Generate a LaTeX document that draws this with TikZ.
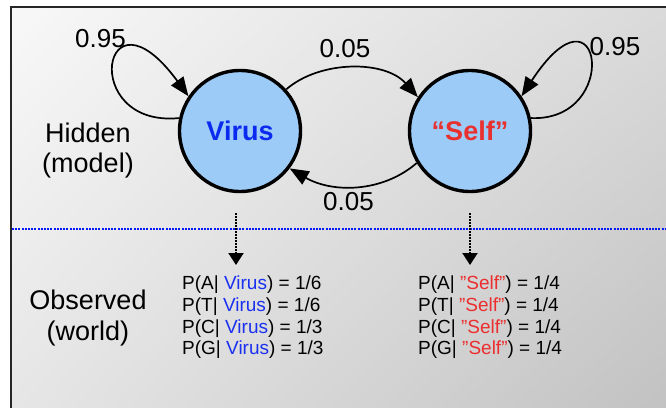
\documentclass[tikz,border=0pt]{standalone}
\usepackage{fontspec}
\setmainfont{Liberation Sans}
\usetikzlibrary{arrows.meta,shadings}

\definecolor{statefill}{HTML}{9DCBF8}
\definecolor{virusblue}{HTML}{0A2AF0}
\definecolor{selfred}{HTML}{E8302E}
\definecolor{textblue}{HTML}{1A30F0}
\definecolor{textred}{HTML}{EC2E2E}
\definecolor{splitblue}{HTML}{0018FF}
\definecolor{bgul}{HTML}{F8F8F8}
\definecolor{bgur}{HTML}{DADADA}
\definecolor{bgll}{HTML}{E6E6E6}
\definecolor{bglr}{HTML}{C2C2C2}

\tikzset{
  state/.style={circle, draw=black, line width=3.4pt, fill=statefill,
    minimum size=121pt, inner sep=0pt,
    font=\fontsize{27}{30}\selectfont\bfseries},
  trans/.style={line width=1.7pt,
    -{Triangle[length=19pt,width=15pt]}},
  emit/.style={line width=2pt, dash pattern=on 1.6pt off 1.4pt,
    -{Triangle[length=12pt,width=15pt]}},
  prob/.style={anchor=base, font=\fontsize{26}{30}\selectfont},
  side/.style={anchor=base, font=\fontsize{27}{31}\selectfont},
  emline/.style={anchor=base west, inner sep=0pt, font=\fontsize{19}{21}\selectfont},
}

\begin{document}
\begin{tikzpicture}[x=1pt, y=-1pt]
  \useasboundingbox (0,0) rectangle (666,407);

  % panel background and its frame
  \shade[upper left=bgul, upper right=bgur, lower left=bgll, lower right=bglr]
    (11,7) rectangle (666,407);
  \draw[line width=2.2pt, black!85] (11,408) -- (11,7) -- (667,7);

  % split between hidden and observed layers
  \coordinate (splitL) at (12,229);
  \coordinate (splitR) at (666,229);
  \draw[splitblue, line width=1.1pt, dash pattern=on 2pt off 1.2pt] (splitL) -- (splitR);

  % hidden states
  \node[state, text=virusblue] (virus) at (240,131) {Virus};
  \node[state, text=selfred]   (self)  at (470,131) {“Self”};

  % transitions
  \draw[trans] (virus.42) .. controls (320,60) and (385,60) .. (self.147);
  \draw[trans] (self.211) .. controls (382,193) and (332,193) .. (virus.323);
  \draw[trans] (virus.168) .. controls (78,128) and (102,-22) .. (virus.146);
  \draw[trans] (self.12) .. controls (622,122) and (602,-27) .. (self.34);

  % transition probabilities
  \node[prob] (p11) at (100.5,47) {0.95};
  \node[prob] (p12) at (345,57) {0.05};
  \node[prob] (p21) at (348.5,210) {0.05};
  \node[prob] (p22) at (615,55) {0.95};

  % layer captions
  \node[side] (hid1) at (88,142) {Hidden};
  \node[side] (hid2) at (88,172) {(model)};
  \node[side] (obs1) at (88,309) {Observed};
  \node[side] (obs2) at (88,340) {(world)};

  % emissions
  \coordinate (vfrom) at (236,213);
  \coordinate (vto)   at (236,265);
  \coordinate (sfrom) at (470,213);
  \coordinate (sto)   at (470,265);
  \draw[emit] (vfrom) -- (vto);
  \draw[emit] (sfrom) -- (sto);

  \node[emline] (va) at (182,289) {P(A| {\color{textblue}Virus}) = 1/6};
  \node[emline] (vt) at (182,311) {P(T| {\color{textblue}Virus}) = 1/6};
  \node[emline] (vc) at (182,333) {P(C| {\color{textblue}Virus}) = 1/3};
  \node[emline] (vg) at (182,354) {P(G| {\color{textblue}Virus}) = 1/3};

  \node[emline] (sa) at (418,289) {P(A| {\color{textred}”Self”}) = 1/4};
  \node[emline] (st) at (418,311) {P(T| {\color{textred}”Self”}) = 1/4};
  \node[emline] (sc) at (418,333) {P(C| {\color{textred}”Self”}) = 1/4};
  \node[emline] (sg) at (418,354) {P(G| {\color{textred}”Self”}) = 1/4};
\end{tikzpicture}
\end{document}
